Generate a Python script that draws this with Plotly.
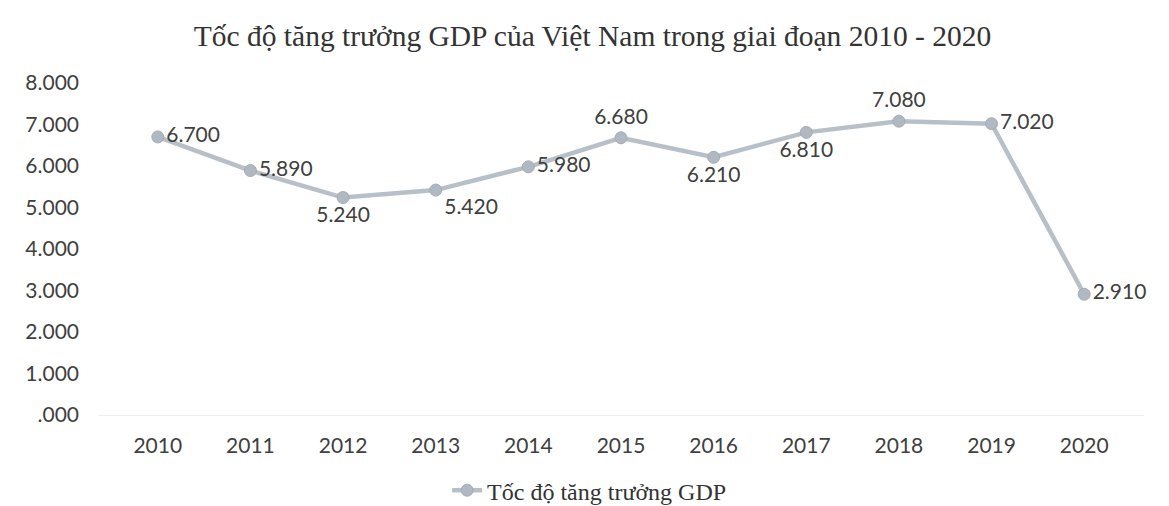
import plotly.graph_objects as go

years = ["2010", "2011", "2012", "2013", "2014", "2015", "2016", "2017", "2018", "2019", "2020"]
gdp_growth = [6.70, 5.89, 5.24, 5.42, 5.98, 6.68, 6.21, 6.81, 7.08, 7.02, 2.91]
label_text = ["6.700", "5.890", "5.240", "5.420", "5.980", "6.680", "6.210", "6.810", "7.080", "7.020", "2.910"]
label_pos = ["middle right", "middle right", "bottom center", "bottom right", "middle right",
             "top center", "bottom center", "bottom center", "top center", "middle right", "middle right"]
y_tickvals = [0, 1, 2, 3, 4, 5, 6, 7, 8]
y_ticktext = [".000", "1.000", "2.000", "3.000", "4.000", "5.000", "6.000", "7.000", "8.000"]

sans = "Lato, Open Sans, sans-serif"
serif = "Liberation Serif, Times New Roman, serif"

fig = go.Figure()
fig.add_trace(go.Scatter(
    x=years, y=gdp_growth,
    mode="lines+markers+text",
    name="Tốc độ tăng trưởng GDP",
    line=dict(color="#b7c0c8", width=4.5),
    marker=dict(color="#b0b9c1", size=12, line=dict(color="#a4adb5", width=1)),
    text=label_text,
    textposition=label_pos,
    textfont=dict(family=sans, size=21, color="#404040"),
    cliponaxis=False,
))

fig.update_layout(
    width=1169, height=506,
    paper_bgcolor="white", plot_bgcolor="white",
    margin=dict(l=90, r=33, t=75, b=99, autoexpand=False),
    title=dict(
        text="Tốc độ tăng trưởng GDP của Việt Nam trong giai đoạn 2010 - 2020",
        x=0.5, xanchor="center", xref="container",
        y=0.945, yanchor="middle", yref="container",
        font=dict(family=serif, size=29.5, color="#333333"),
    ),
    showlegend=True,
    legend=dict(
        orientation="h", x=0.47, xanchor="center",
        y=-0.16, yanchor="top",
        font=dict(family=serif, size=24, color="#333333"),
        bgcolor="rgba(0,0,0,0)",
    ),
    font=dict(family=sans, color="#404040"),
)
fig.update_xaxes(
    type="category", showgrid=False, zeroline=False,
    showline=True, linecolor="#eeeeee", linewidth=1,
    ticks="", tickfont=dict(family=sans, size=21, color="#404040"),
    ticklabelstandoff=12,
)
fig.update_yaxes(
    range=[0, 8], tickvals=y_tickvals, ticktext=y_ticktext,
    showgrid=False, zeroline=False, showline=False, ticks="",
    tickfont=dict(family=sans, size=21, color="#404040"),
    ticklabelstandoff=18,
)

fig.write_html("out.html")
